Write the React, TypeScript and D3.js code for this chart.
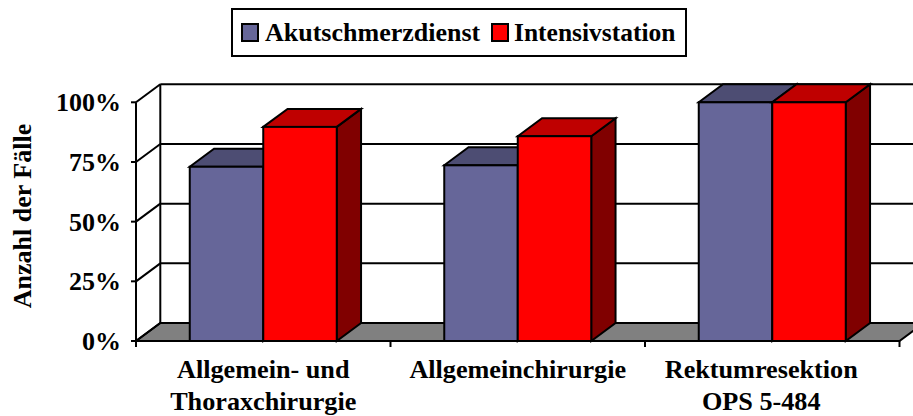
import React from "react";
import * as d3 from "d3";

const categories = [["Allgemein- und", "Thoraxchirurgie"], ["Allgemeinchirurgie"], ["Rektumresektion", "OPS 5-484"]];
const seriesNames = ["Akutschmerzdienst", "Intensivstation"];
const akutschmerzdienst = [73, 73.6, 100];
const intensivstation = [89.7, 85.8, 100];
const yTicks = [0, 25, 50, 75, 100];

const fronts = ["#666699", "#ff0000"];
const tops = ["#4d4d73", "#bf0000"];
const sides = ["#4d4d73", "#800000"];
const DX = 24.3;
const DY = -18;
const SW = 2;

export default function App() {
  const keys = categories.map((_, i) => String(i));
  const x = d3.scaleBand<string>().domain(keys).range([136, 899.5]);
  const inner = d3.scaleBand<string>().domain(["0", "1"]).range([x.bandwidth() / 2 - 73.5, x.bandwidth() / 2 + 73.5]);
  const y = d3.scaleLinear().domain([0, 100]).range([341, 102.3]);
  const x0 = 136;
  const x1 = 899.5;
  const pts = (a: number[][]) => a.map((p) => p.join(",")).join(" ");
  const series = [akutschmerzdienst, intensivstation];

  return (
    <svg width={913} height={416} style={{ position: "absolute", left: 0, top: 0, background: "#fff" }}
      fontFamily="'Liberation Serif', serif" fontWeight="bold" fill="#000">
      {/* floor */}
      <polygon points={pts([[x0, y(0)], [x0 + DX, y(0) + DY], [x1 + DX, y(0) + DY], [x1, y(0)]])} fill="#808080" stroke="#000" strokeWidth={SW} />
      {/* back wall grid and side wall */}
      {yTicks.map((t) => (
        <g key={t} stroke="#000" strokeWidth={SW} fill="none">
          <line x1={x0 + DX} x2={x1 + DX} y1={y(t) + DY} y2={y(t) + DY} />
          <line x1={x0} x2={x0 + DX} y1={y(t)} y2={y(t) + DY} />
          <line x1={x0 - 5} x2={x0} y1={y(t)} y2={y(t)} />
        </g>
      ))}
      <line x1={x0 + DX} x2={x0 + DX} y1={y(100) + DY} y2={y(0) + DY} stroke="#000" strokeWidth={SW} />
      {/* bars */}
      {keys.map((k, i) => (
        <g key={k} stroke="#000" strokeWidth={SW} strokeLinejoin="miter">
          {series.map((s, j) => {
            const left = (x(k) as number) + (inner(String(j)) as number);
            const right = left + inner.bandwidth();
            const top = y(s[i]);
            const base = y(0);
            return (
              <g key={j}>
                <polygon points={pts([[right, top], [right + DX, top + DY], [right + DX, base + DY], [right, base]])} fill={sides[j]} />
                <polygon points={pts([[left, top], [left + DX, top + DY], [right + DX, top + DY], [right, top]])} fill={tops[j]} />
                <rect x={left} y={top} width={right - left} height={base - top} fill={fronts[j]} />
              </g>
            );
          })}
        </g>
      ))}
      {/* front axes */}
      <line x1={x0} x2={x0} y1={y(100)} y2={y(0) + 6} stroke="#000" strokeWidth={SW} />
      <line x1={x0} x2={x1} y1={y(0)} y2={y(0)} stroke="#000" strokeWidth={SW} />
      {keys.map((k) => {
        const tx = (x(k) as number) + x.bandwidth();
        return <line key={k} x1={tx} x2={tx} y1={y(0)} y2={y(0) + 6} stroke="#000" strokeWidth={SW} />;
      })}
      {/* y labels */}
      {yTicks.map((t) => (
        <text key={t} x={121} y={y(t) + 9} textAnchor="end" fontSize={26}>{t}%</text>
      ))}
      <text transform="translate(31,216) rotate(-90)" textAnchor="middle" fontSize={26}>Anzahl der Fälle</text>
      {/* category labels */}
      {keys.map((k, i) => (
        <g key={k}>
          {categories[i].map((line, l) => (
            <text key={l} x={(x(k) as number) + x.bandwidth() / 2 + (i === 2 ? -11 : 0)} y={378 + l * 32} textAnchor="middle" fontSize={26.2}>{line}</text>
          ))}
        </g>
      ))}
      {/* legend */}
      <rect x={232} y={9} width={454} height={47} fill="#fff" stroke="#000" strokeWidth={2} />
      <rect x={242} y={24} width={16} height={17} fill={fronts[0]} stroke="#000" strokeWidth={2} />
      <text x={265} y={40.5} fontSize={26}>{seriesNames[0]}</text>
      <rect x={492} y={24} width={16} height={17} fill={fronts[1]} stroke="#000" strokeWidth={2} />
      <text x={514} y={40.5} fontSize={25.5}>{seriesNames[1]}</text>
    </svg>
  );
}
